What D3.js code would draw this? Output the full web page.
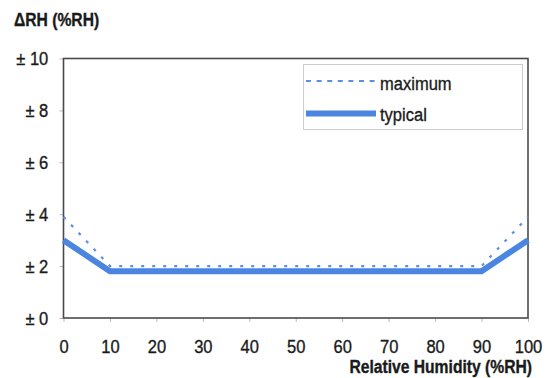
<!DOCTYPE html>
<html>
<head>
<meta charset="utf-8">
<script src="https://cdn.jsdelivr.net/npm/d3@7"></script>
<style>
  body { margin: 0; background: #fff; }
  text { font-family: "Liberation Sans", Arial, sans-serif; fill: #1a1a1a; stroke: #1a1a1a; stroke-width: 0.35; }
</style>
</head>
<body>
<div id="chart"></div>
<script>
// data
const humidity = [0, 10, 90, 100];
const maximum = [3.9, 2.0, 2.0, 3.9];
const typical = [3.0, 1.8, 1.8, 3.0];
const xTicks = [0, 10, 20, 30, 40, 50, 60, 70, 80, 90, 100];
const yTicks = [0, 2, 4, 6, 8, 10];

const W = 551, H = 378;
const plotLeft = 63.5, plotRight = 528, plotTop = 58.5, plotBottom = 318;
const squeeze = 0.87; // the original font is a bit narrower than Arial

const svg = d3.select("#chart").append("svg")
    .attr("width", W)
    .attr("height", H);

const x = d3.scaleLinear().domain([0, 100]).range([plotLeft, plotRight]);
const y = d3.scaleLinear().domain([0, 10]).range([plotBottom, plotTop]);

// places a narrowed text at (px, py)
function label(px, py, txt, size, bold, anchor) {
    return svg.append("text")
        .attr("transform", "translate(" + px + "," + py + ") scale(" + squeeze + ",1)")
        .attr("text-anchor", anchor || "start")
        .attr("font-size", size)
        .attr("font-weight", bold ? "bold" : "normal")
        .text(txt);
}

// y axis
const yAxis = svg.append("g")
    .attr("transform", "translate(" + plotLeft + ",0)")
    .call(d3.axisLeft(y).tickValues(yTicks).tickSize(4).tickPadding(13.5)
        .tickFormat(d => "\u00b1 " + d));
yAxis.select(".domain").remove();
yAxis.selectAll("line").attr("stroke", "#bbb");
yAxis.selectAll("text")
    .attr("font-size", 19).attr("fill", "#1a1a1a")
    .attr("transform", "scale(" + squeeze + ",1)");

// x axis
const xAxis = svg.append("g")
    .attr("transform", "translate(0," + plotBottom + ")")
    .call(d3.axisBottom(x).tickValues(xTicks).tickSize(4).tickPadding(18));
xAxis.select(".domain").remove();
xAxis.selectAll("line").attr("stroke", "#bbb");
xAxis.selectAll("text")
    .attr("font-size", 19).attr("fill", "#1a1a1a")
    .attr("transform", "scale(" + squeeze + ",1)");

// plot frame
svg.append("rect")
    .attr("x", plotLeft).attr("y", plotTop)
    .attr("width", plotRight - plotLeft).attr("height", plotBottom - plotTop)
    .attr("fill", "none")
    .attr("stroke", "#4a4a4a")
    .attr("stroke-width", 1.6);

// lines
const line = d3.line()
    .x((d, i) => x(humidity[i]))
    .y(d => y(d));

svg.append("path")
    .datum(maximum)
    .attr("d", line)
    .attr("fill", "none")
    .attr("stroke", "#5b8ee6")
    .attr("stroke-width", 2.2)
    .attr("stroke-dasharray", "3,8");

svg.append("path")
    .datum(typical)
    .attr("d", line)
    .attr("fill", "none")
    .attr("stroke", "#4a86e0")
    .attr("stroke-width", 6);

// legend
svg.append("rect")
    .attr("x", 303.5).attr("y", 64.5)
    .attr("width", 219).attr("height", 65)
    .attr("fill", "#fff")
    .attr("stroke", "#ccc");

svg.append("line")
    .attr("x1", 306).attr("x2", 376)
    .attr("y1", 81).attr("y2", 81)
    .attr("stroke", "#5b8ee6")
    .attr("stroke-width", 2.2)
    .attr("stroke-dasharray", "5,5.6");
label(380, 90, "maximum", 19, false);

svg.append("line")
    .attr("x1", 306).attr("x2", 376)
    .attr("y1", 113.5).attr("y2", 113.5)
    .attr("stroke", "#4a86e0")
    .attr("stroke-width", 6);
label(380, 121, "typical", 19, false);

// axis titles
label(14, 26, "\u0394RH (%RH)", 18, true);
label(532, 373, "Relative Humidity (%RH)", 18, true, "end");
</script>
</body>
</html>
